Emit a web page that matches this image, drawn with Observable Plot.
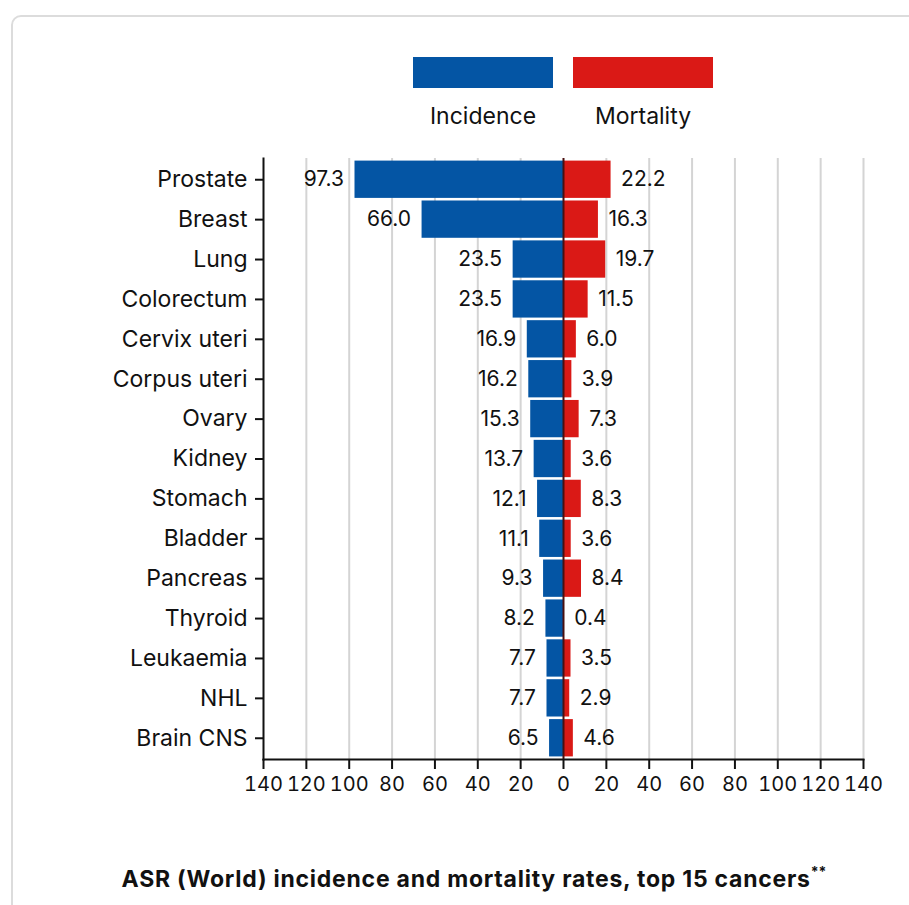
<!DOCTYPE html>
<html>
<head>
<meta charset="utf-8">
<script src="https://cdn.jsdelivr.net/npm/d3@7"></script>
<script src="https://cdn.jsdelivr.net/npm/@observablehq/plot@0.6"></script>
<style>
  html, body { margin: 0; padding: 0; background: #fff; width: 909px; height: 905px; overflow: hidden; }
  body { position: relative; font-family: Inter, "Noto Sans", sans-serif; color: #111; }
  #frame { position: absolute; left: 11px; top: 15px; width: 1000px; height: 1000px; border: 2px solid #dcdcdc; border-radius: 10px; }
  #chart { position: absolute; left: 0; top: 0; }
  .sw { position: absolute; top: 57px; width: 140px; height: 31px; }
  .lg { position: absolute; top: 102px; width: 140px; text-align: center; font-size: 23px; line-height: 28px; color: #111; }
  #title { position: absolute; left: 0; width: 948px; top: 864px; text-align: center; font-weight: 700; font-size: 23px; letter-spacing: 0.75px; line-height: 30px; color: #111; }
  #title sup { font-size: 14px; vertical-align: 10px; line-height: 0; letter-spacing: 0; }
</style>
</head>
<body>
<div id="frame"></div>
<div class="sw" style="left:413px;background:#0455A4"></div>
<div class="sw" style="left:573px;background:#DA1916"></div>
<div class="lg" style="left:413px">Incidence</div>
<div class="lg" style="left:573px">Mortality</div>
<div id="chart"></div>
<div id="title">ASR (World) incidence and mortality rates, top 15 cancers<sup>**</sup></div>
<script>
const cancers = ["Prostate","Breast","Lung","Colorectum","Cervix uteri","Corpus uteri","Ovary","Kidney","Stomach","Bladder","Pancreas","Thyroid","Leukaemia","NHL","Brain CNS"];
const incidence = [97.3,66.0,23.5,23.5,16.9,16.2,15.3,13.7,12.1,11.1,9.3,8.2,7.7,7.7,6.5];
const mortality = [22.2,16.3,19.7,11.5,6.0,3.9,7.3,3.6,8.3,3.6,8.4,0.4,3.5,2.9,4.6];
const xTicks = [-140,-120,-100,-80,-60,-40,-20,0,20,40,60,80,100,120,140];

const blue = "#0455A4", red = "#DA1916";
const data = cancers.map((c, i) => ({cancer: c, inc: incidence[i], mort: mortality[i]}));

const H = 820;
const chart = Plot.plot({
  width: 909,
  height: H,
  marginLeft: 263,
  marginRight: 46,
  marginTop: 158,
  marginBottom: H - 759,
  style: {fontFamily: "Inter, 'Noto Sans', sans-serif", fontSize: "21px", color: "#111", background: "transparent"},
  x: {domain: [-140, 140]},
  y: {domain: cancers, padding: 0.065, round: false},
  marks: [
    Plot.ruleX(xTicks.filter(d => d !== 0 && d !== -140), {stroke: "#d4d4d4", strokeWidth: 2}),
    Plot.barX(data, {x1: 0, x2: d => -d.inc, y: "cancer", fill: blue}),
    Plot.barX(data, {x1: 0, x2: "mort", y: "cancer", fill: red}),
    Plot.ruleX([0], {stroke: "#4a1010", strokeWidth: 2}),
    Plot.text(data, {x: d => -d.inc, y: "cancer", text: d => d.inc.toFixed(1), textAnchor: "end", dx: -11, fontSize: 21, fill: "#111"}),
    Plot.text(data, {x: "mort", y: "cancer", text: d => d.mort.toFixed(1), textAnchor: "start", dx: 10, fontSize: 21, fill: "#111"}),
    Plot.axisX({ticks: xTicks, tickFormat: d => Math.abs(d), tickSize: 10, tickPadding: 7, strokeWidth: 2, fontSize: 20, label: null}),
    Plot.axisY({tickSize: 8, tickPadding: 8, strokeWidth: 2, fontSize: 23, label: null}),
    Plot.frame({anchor: "left", strokeWidth: 2}),
    Plot.frame({anchor: "bottom", strokeWidth: 2})
  ]
});
document.getElementById("chart").appendChild(chart);
</script>
</body>
</html>
